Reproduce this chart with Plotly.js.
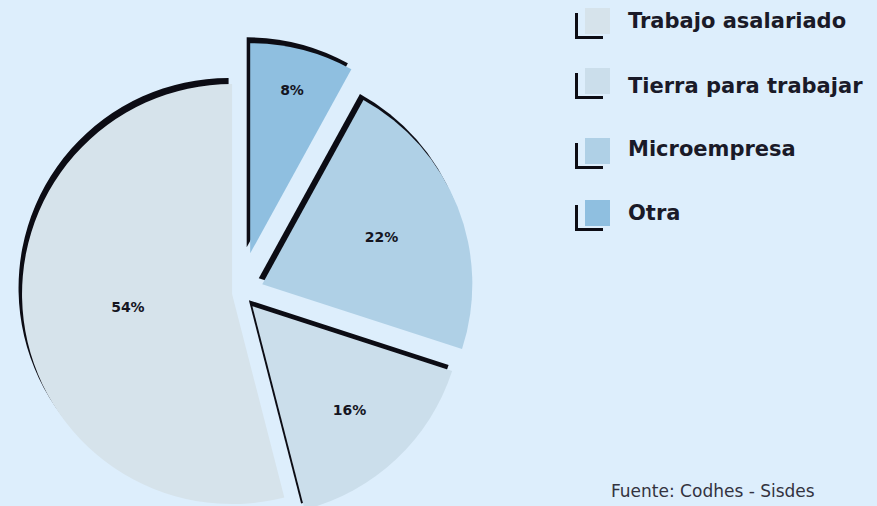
<!DOCTYPE html>
<html><head><meta charset="utf-8">
<script src="https://cdn.plot.ly/plotly-3.0.1.min.js"></script>
<style>
html,body{margin:0;padding:0;width:877px;height:506px;overflow:hidden;background:#ddeefc;}
#chart{position:absolute;left:-15px;top:0;width:892px;height:560px;}
</style></head><body><div id="chart"></div>
<script>
// ---- data ----
const categories = ['Trabajo asalariado', 'Tierra para trabajar', 'Microempresa', 'Otra'];
const shares = [54, 16, 22, 8];
const sliceColors = ['#d6e3eb', '#cbdeeb', '#afd0e6', '#8fbfe0'];
const pulls = [0.038, 0.086, 0.114, 0.195];
const sourceText = 'Fuente: Codhes - Sisdes';

// ---- geometry helpers (page pixels -> paper fractions) ----
const W = 892, H = 560, OX = 15;
const px = x => (x + OX) / W;
const py = y => 1 - y / H;

const side = 502, cx = 240, cy = 293;
const dom = {x: [px(cx - side / 2), px(cx + side / 2)], y: [py(cy + side / 2), py(cy - side / 2)]};
const sdx = -3.5, sdy = -6;
const shadowDom = {x: [px(cx - side / 2 + sdx), px(cx + side / 2 + sdx)], y: [py(cy + side / 2 + sdy), py(cy - side / 2 + sdy)]};

// first slice (counterclockwise) ends at 12 o'clock
const total = shares.reduce((a, b) => a + b, 0);
const rot = 360 * (1 - shares[0] / total);

const base = {
  type: 'pie', labels: categories, values: shares, pull: pulls,
  sort: false, direction: 'counterclockwise', rotation: rot,
  showlegend: false
};

const shadow = Object.assign({}, base, {
  domain: shadowDom,
  marker: {colors: categories.map(() => '#0c0c14'), line: {width: 0}},
  textinfo: 'none', hoverinfo: 'skip'
});

const main = Object.assign({}, base, {
  domain: dom,
  marker: {colors: sliceColors, line: {width: 0}},
  texttemplate: '%{value}%',
  textposition: 'inside',
  insidetextorientation: 'horizontal',
  textfont: {family: 'DejaVu Sans', size: 14, color: '#15151f', weight: 'bold'},
  hoverinfo: 'label+percent'
});

// ---- custom legend ----
const swTop = [8, 68, 138, 200];
const txtY = [21, 86, 149, 213];
const shapes = [];
const annotations = [];
categories.forEach((c, i) => {
  const t = swTop[i];
  shapes.push({type: 'rect', xref: 'paper', yref: 'paper',
    x0: px(585), x1: px(610), y0: py(t + 26), y1: py(t),
    fillcolor: sliceColors[i], line: {width: 0}});
  shapes.push({type: 'path', xref: 'paper', yref: 'paper',
    path: `M ${px(576.5)} ${py(t + 5)} L ${px(576.5)} ${py(t + 29.5)} L ${px(603)} ${py(t + 29.5)}`,
    line: {color: '#0c0c14', width: 3}});
  annotations.push({xref: 'paper', yref: 'paper', x: px(626), y: py(txtY[i]),
    xanchor: 'left', yanchor: 'middle', showarrow: false, text: c,
    font: {family: 'DejaVu Sans', size: 21, color: '#1a1a28', weight: 'bold'}});
});
annotations.push({xref: 'paper', yref: 'paper', x: px(609), y: py(491),
  xanchor: 'left', yanchor: 'middle', showarrow: false, text: sourceText,
  font: {family: 'DejaVu Sans', size: 17, color: '#333340'}});

Plotly.newPlot('chart', [shadow, main], {
  width: W, height: H,
  margin: {l: 0, r: 0, t: 0, b: 0},
  paper_bgcolor: '#ddeefc', plot_bgcolor: '#ddeefc',
  showlegend: false,
  shapes: shapes, annotations: annotations
}, {displayModeBar: false});
</script></body></html>
